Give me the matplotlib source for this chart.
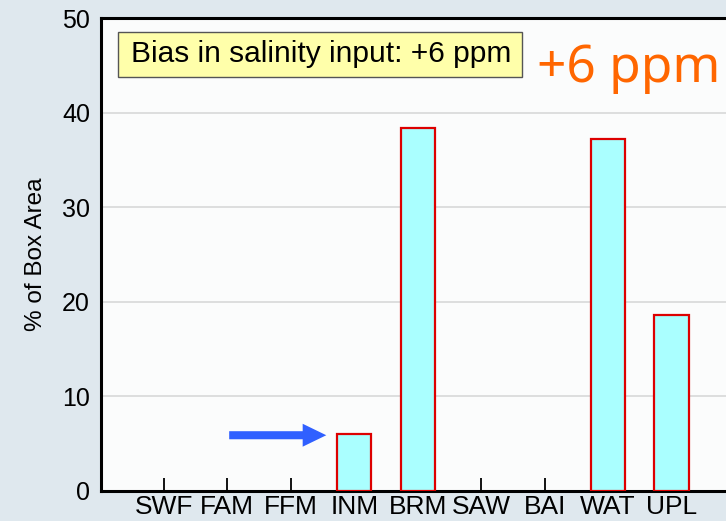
import matplotlib
matplotlib.use("Agg")
from matplotlib import pyplot as plt
from matplotlib.patches import Rectangle

plt.rcParams['font.family'] = ['Liberation Sans', 'DejaVu Sans']

# data
categories = ["SWF", "FAM", "FFM", "INM", "BRM", "SAW", "BAI", "WAT", "UPL"]
box_area_pct = [0, 0, 0, 6.0, 38.4, 0, 0, 37.2, 18.6]
y_ticks = [0, 10, 20, 30, 40, 50]
bias_label = "Bias in salinity input: +6 ppm"
bias_big = "+6 ppm"
arrow_from = (1.03, 5.9)
arrow_to = (2.56, 5.9)

fig = plt.figure(figsize=(7.26, 5.21), dpi=100)
fig.patch.set_facecolor('#dfe8ee')

ax = fig.add_axes([0.1391, 0.0576, 0.917, 0.907])
ax.set_facecolor('#fbfcfc')

x = list(range(len(categories)))
# empty categories get no outline, like the reference
edge_widths = [1.6 if v > 0 else 0 for v in box_area_pct]
ax.bar(x, box_area_pct, width=0.54, color='#aaffff', edgecolor='#dd0000',
       linewidth=edge_widths, zorder=3)

ax.set_xlim(-0.99, 9.5)
ax.set_ylim(0, 50)
ax.set_yticks(y_ticks)
ax.set_xticks(x)
ax.set_xticklabels(categories)
ax.yaxis.grid(True, color='#d8d8d8', linewidth=1.2, zorder=0)
ax.set_axisbelow(True)

ax.tick_params(axis='x', direction='in', length=9.5, width=1.3, pad=3,
               labelsize=19, color='black')
ax.tick_params(axis='y', length=0, pad=8, labelsize=18)

for side in ['top', 'left', 'bottom']:
    ax.spines[side].set_linewidth(2.2)
    ax.spines[side].set_color('black')
ax.spines['right'].set_visible(False)

ax.set_ylabel("% of Box Area", fontsize=17.5, labelpad=11)

# blue arrow pointing at INM
ax.annotate('', xy=arrow_to, xytext=arrow_from,
            arrowprops=dict(width=5.8, headwidth=16.5, headlength=17,
                            shrink=0, color='#3060ff', linewidth=0),
            zorder=4)

# yellow label box
fig.patches.append(Rectangle((0.1625, 0.852), 0.5565, 0.0864,
                             transform=fig.transFigure, facecolor='#ffffaa',
                             edgecolor='#555555', linewidth=1.0, zorder=5))
fig.text(0.4425, 0.8954, bias_label, fontsize=21.5, ha='center', va='center',
         zorder=6)

fig.text(0.740, 0.8426, bias_big, fontsize=37, color='#ff6600',
         family=['Noto Sans', 'DejaVu Sans'], ha='left', va='baseline', zorder=6)

plt.savefig('out.png', dpi=100, facecolor=fig.get_facecolor())
